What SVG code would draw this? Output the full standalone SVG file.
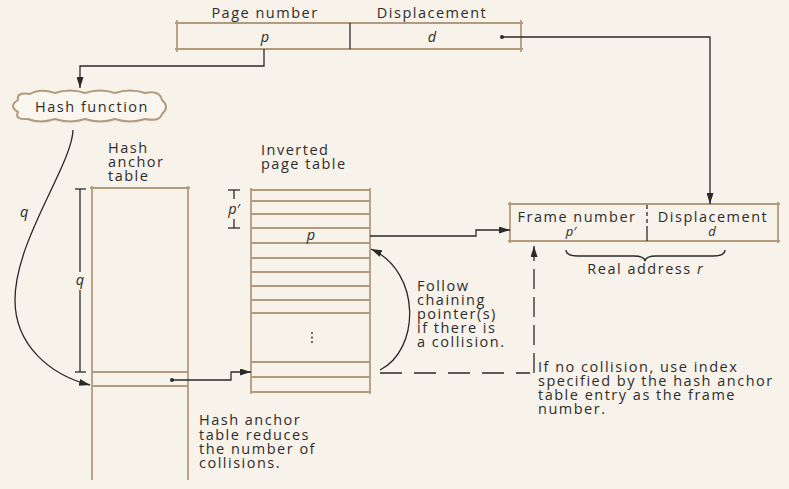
<svg xmlns="http://www.w3.org/2000/svg" width="789" height="489" viewBox="0 0 789 489">
<style>
text{font-family:"Open Sans","Noto Sans","DejaVu Sans",sans-serif;font-size:14.5px;fill:#2f2d2b;letter-spacing:1.5px}
.it{font-style:italic;letter-spacing:0}
.sm{font-size:13px}
.mid{text-anchor:middle}
.box{fill:none;stroke:#b39a7c;stroke-width:2}
.row{stroke:#b39a7c;stroke-width:1.8}
.con{fill:none;stroke:#2b2a29;stroke-width:1.3}
.dash{fill:none;stroke:#2b2a29;stroke-width:1.3;stroke-dasharray:22 12}
.vdash{fill:none;stroke:#2b2a29;stroke-width:1.3;stroke-dasharray:20 8}
</style>
<defs>
<marker id="ah" markerUnits="userSpaceOnUse" markerWidth="11" markerHeight="7" refX="11" refY="3.5" orient="auto">
<path d="M0,0 L11,3.5 L0,7 Z" fill="#2b2a29"/>
</marker>
</defs>
<rect width="789" height="489" fill="#f7f2ea"/>

<g id="virtual-address">
<line class="row" x1="175" y1="23" x2="523" y2="23"/>
<line class="row" x1="175" y1="49" x2="523" y2="49"/>
<line class="row" x1="177" y1="20" x2="177" y2="52"/>
<line class="row" x1="521" y1="20" x2="521" y2="52"/>
<line x1="350" y1="23" x2="350" y2="49" stroke="#2b2a29" stroke-width="1.3"/>
<text class="mid" x="265" y="18">Page number</text>
<text class="mid" x="432" y="18">Displacement</text>
<text class="mid it" x="265" y="42">p</text>
<text class="mid it" x="432" y="42">d</text>
<circle cx="502" cy="37" r="2" fill="#2b2a29"/>
</g>

<g id="hash-function">
<path class="box" d="M18,100 Q16,92 30,94 Q40,88 55,93 Q70,88 85,93 Q100,88 115,93 Q130,88 145,93 Q160,90 162,100 Q170,107 162,114 Q160,122 145,119 Q130,124 115,119 Q100,124 85,119 Q70,124 55,119 Q40,124 28,119 Q14,120 18,112 Q8,106 18,100 Z" style="fill:#f9f5ef"/>
<text class="mid" x="92" y="112">Hash function</text>
</g>

<g id="hash-anchor-table">
<text x="108" y="153">Hash</text>
<text x="108" y="167">anchor</text>
<text x="108" y="181">table</text>
<line class="row" x1="90" y1="188" x2="190" y2="188"/>
<line class="row" x1="92" y1="186" x2="92" y2="480"/>
<line class="row" x1="188" y1="186" x2="188" y2="480"/>
<line class="row" x1="92" y1="372" x2="188" y2="372"/>
<line class="row" x1="92" y1="386" x2="188" y2="386"/>
<circle cx="172" cy="380" r="2" fill="#2b2a29"/>
</g>

<g id="q-dimension">
<line class="con" x1="75" y1="189" x2="86" y2="189"/>
<line class="con" x1="75" y1="372" x2="86" y2="372"/>
<line class="con" x1="80" y1="189" x2="80" y2="272"/>
<line class="con" x1="80" y1="290" x2="80" y2="372"/>
<text class="mid it" x="80" y="285">q</text>
</g>

<g id="inverted-page-table">
<text x="261" y="155">Inverted</text>
<text x="261" y="169">page table</text>
<line class="row" x1="251" y1="188" x2="251" y2="394"/>
<line class="row" x1="370" y1="188" x2="370" y2="394"/>
<line class="row" x1="251" y1="190" x2="370" y2="190"/>
<line class="row" x1="251" y1="201" x2="370" y2="201"/>
<line class="row" x1="251" y1="214" x2="370" y2="214"/>
<line class="row" x1="251" y1="228" x2="370" y2="228"/>
<line class="row" x1="251" y1="243" x2="370" y2="243"/>
<line class="row" x1="251" y1="258" x2="370" y2="258"/>
<line class="row" x1="251" y1="272" x2="370" y2="272"/>
<line class="row" x1="251" y1="286" x2="370" y2="286"/>
<line class="row" x1="251" y1="300" x2="370" y2="300"/>
<line class="row" x1="251" y1="313" x2="370" y2="313"/>
<line class="row" x1="251" y1="362" x2="370" y2="362"/>
<line class="row" x1="251" y1="377" x2="370" y2="377"/>
<line class="row" x1="251" y1="392" x2="370" y2="392"/>
<text class="mid it" x="311" y="240">p</text>
<circle cx="312" cy="333" r="0.9" fill="#2b2a29"/>
<circle cx="312" cy="337.5" r="0.9" fill="#2b2a29"/>
<circle cx="312" cy="342" r="0.9" fill="#2b2a29"/>
</g>

<g id="p-prime-dimension">
<line class="con" x1="228" y1="190" x2="240" y2="190"/>
<line class="con" x1="228" y1="228" x2="240" y2="228"/>
<line class="con" x1="234" y1="190" x2="234" y2="199"/>
<line class="con" x1="234" y1="219" x2="234" y2="228"/>
<text class="mid it" x="234" y="214">p′</text>
</g>

<g id="real-address">
<line class="row" x1="508" y1="204" x2="780" y2="204"/>
<line class="row" x1="508" y1="241" x2="780" y2="241"/>
<line class="row" x1="510" y1="202" x2="510" y2="243"/>
<line class="row" x1="778" y1="202" x2="778" y2="243"/>
<line x1="647" y1="205" x2="647" y2="226" stroke="#2b2a29" stroke-width="1.3" stroke-dasharray="4 3"/>
<line x1="647" y1="226" x2="647" y2="241" stroke="#2b2a29" stroke-width="1.3"/>
<text class="mid" x="577" y="222">Frame number</text>
<text class="mid" x="713" y="222">Displacement</text>
<text class="mid it sm" x="571" y="236">p′</text>
<text class="mid it sm" x="712" y="236">d</text>
<path class="con" d="M566,250 Q566,256 578,256 L634,256 Q644,256 645,261 Q646,256 656,256 L713,256 Q725,256 725,250"/>
<text class="mid" x="645" y="274">Real address <tspan class="it">r</tspan></text>
</g>

<g id="annotations">
<text x="417" y="291">Follow</text>
<text x="417" y="305">chaining</text>
<text x="417" y="319">pointer(s)</text>
<text x="417" y="333">if there is</text>
<text x="417" y="347">a collision.</text>
<text x="538" y="372">If no collision, use index</text>
<text x="538" y="386">specified by the hash anchor</text>
<text x="538" y="400">table entry as the frame</text>
<text x="538" y="414">number.</text>
<text x="199" y="425">Hash anchor</text>
<text x="199" y="440">table reduces</text>
<text x="199" y="454">the number of</text>
<text x="199" y="468">collisions.</text>
<text class="it" x="20" y="217">q</text>
</g>

<g id="connectors">
<path class="con" d="M502,37 H710 V204" marker-end="url(#ah)"/>
<path class="con" d="M264,49 V66 H80 V88" marker-end="url(#ah)"/>
<path class="con" d="M73,130 C72,165 15,240 15,300 C15,345 50,375 90,385" marker-end="url(#ah)"/>
<path class="con" d="M172,380 H231 V372 H251" marker-end="url(#ah)"/>
<path class="con" d="M370,236 H476 V230 H510" marker-end="url(#ah)"/>
<path class="con" d="M380,370 C420,350 422,272 371,249" marker-end="url(#ah)"/>
<path class="dash" d="M380,373 H530"/>
<path class="vdash" d="M534,373 V246" marker-end="url(#ah)"/>
</g>
</svg>
